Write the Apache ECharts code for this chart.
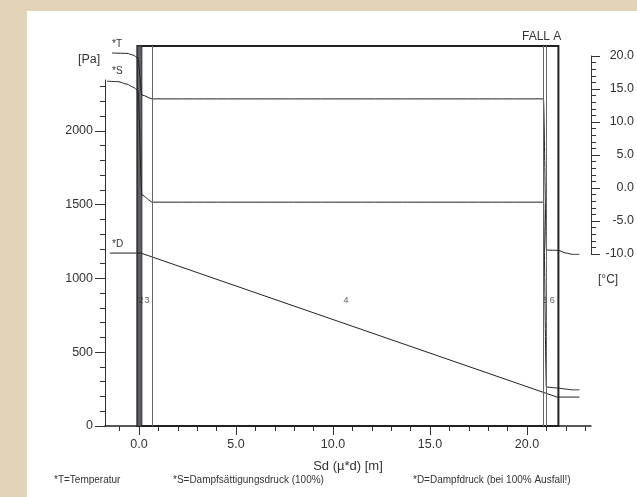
<!DOCTYPE html>
<html><head><meta charset="utf-8">
<script src="https://cdn.jsdelivr.net/npm/echarts@6/dist/echarts.min.js"></script>
<style>html,body{margin:0;padding:0;background:#e3d4b8;}#c{width:637px;height:497px;}</style>
</head><body><div id="c"></div>
<script>
// ---- tick labels / ticks ----
const xMajorTicks = [0, 5, 10, 15, 20];
const xMinorTicks = [-1, 0, 1, 2, 3, 4, 5, 6, 7, 8, 9, 10, 11, 12, 13, 14, 15, 16, 17, 18, 19, 20, 21, 22, 23];
const paMajorTicks = [0, 500, 1000, 1500, 2000];
const paMinorTicks = [100, 200, 300, 400, 600, 700, 800, 900, 1100, 1200, 1300, 1400, 1600, 1700, 1800, 1900, 2100, 2200, 2300];

// ---- T = Temperatur [°C] over Sd [m] ----
const sdT   = [-1.39, -0.62, -0.31, -0.05, 0.15, 0.7, 20.85, 21.0, 21.62, 22.0, 22.35, 22.7];
const tempT = [20.45, 20.4, 20.15, 19.7, 14.1, 13.5, 13.5, -9.4, -9.45, -9.85, -10.05, -10.05];

// ---- S = Dampfsättigungsdruck [Pa] ----
const sdS = [-1.65, -1.08, -0.62, -0.31, -0.05, 0.15, 0.7, 20.85, 21.0, 21.62, 22.0, 22.35, 22.7];
const pS  = [2337, 2334, 2317, 2297, 2276, 1565, 1517, 1517, 264, 257, 250, 245, 245];

// ---- D = Dampfdruck [Pa] ----
const sdD = [-1.5, 0.1, 21.55, 22.7];
const pD  = [1172, 1172, 196, 196];

// ---- wall layers (Sd positions) ----
const wallStart = -0.08;
const wallEnd = 21.62;
const bandEnd = 0.15;
const layerBounds = [0.7, 20.85, 21.0];
const layerNames = ['2', '3', '4', '5', '6'];
const layerSd = [0.1, 0.42, 10.67, 20.93, 21.3];

const zip = (a, b) => a.map((v, i) => [v, b[i]]);
const FONT = 'Liberation Sans, Arial, sans-serif';
const TXT = '#333';
const X_MIN = -1.75, X_MAX = 23.3;

const chart = echarts.init(document.getElementById('c'));
const hiddenX = gi => ({gridIndex: gi, type: 'value', min: X_MIN, max: X_MAX, show: false});

chart.setOption({
  backgroundColor: '#e3d4b8',
  animation: false,
  textStyle: {fontFamily: FONT},
  title: {text: 'FALL A', left: 517, top: 26, textStyle: {fontSize: 12, fontWeight: 'normal', color: TXT, fontFamily: FONT}},
  graphic: [
    {type: 'rect', z: -10, shape: {x: 27, y: 11, width: 610, height: 486}, style: {fill: '#ffffff'}},
    {type: 'text', left: 78, top: 53, style: {text: '[Pa]', font: '12.5px ' + FONT, fill: TXT}},
    {type: 'text', left: 598, top: 274, style: {text: '[°C]', font: '12px ' + FONT, fill: TXT}},
    {type: 'text', left: 112, top: 39, style: {text: '*T', font: '10px ' + FONT, fill: TXT}},
    {type: 'text', left: 112, top: 66, style: {text: '*S', font: '10px ' + FONT, fill: TXT}},
    {type: 'text', left: 112, top: 239, style: {text: '*D', font: '10px ' + FONT, fill: TXT}},
    {type: 'text', left: 54, top: 475, style: {text: '*T=Temperatur', font: '10px ' + FONT, fill: TXT}},
    {type: 'text', left: 173, top: 475, style: {text: '*S=Dampfsättigungsdruck (100%)', font: '10px ' + FONT, fill: TXT}},
    {type: 'text', left: 413, top: 475, style: {text: '*D=Dampfdruck (bei 100% Ausfall!)', font: '10px ' + FONT, fill: TXT}}
  ],
  grid: [
    {left: 105, right: 46, top: 80, bottom: 71},
    {left: 105, right: 46, top: 46, bottom: 71},
    {left: 105, right: 46, top: 56, bottom: 243}
  ],
  xAxis: [
    {gridIndex: 0, type: 'value', min: X_MIN, max: X_MAX, position: 'bottom',
     name: 'Sd (µ*d) [m]', nameLocation: 'middle', nameGap: 34,
     nameTextStyle: {fontSize: 13, color: TXT, fontFamily: FONT},
     axisLine: {onZero: false, lineStyle: {color: '#222', width: 1.5}},
     axisTick: {length: 9, lineStyle: {color: '#333'}, customValues: xMajorTicks},
     axisLabel: {customValues: xMajorTicks, formatter: v => v.toFixed(1), fontSize: 12.5, color: TXT, margin: 12},
     splitLine: {show: false}},
    {gridIndex: 0, type: 'value', min: X_MIN, max: X_MAX, position: 'bottom',
     axisLine: {show: false, onZero: false},
     axisTick: {length: 5, lineStyle: {color: '#333'}, customValues: xMinorTicks},
     axisLabel: {show: false}, splitLine: {show: false}},
    hiddenX(1),
    hiddenX(2)
  ],
  yAxis: [
    {gridIndex: 0, type: 'value', min: 0, max: 2345, position: 'left',
     axisLine: {show: true, onZero: false, lineStyle: {color: '#333', width: 1}},
     axisTick: {show: true, length: 10, lineStyle: {color: '#333'}, customValues: paMajorTicks},
     axisLabel: {customValues: paMajorTicks, formatter: v => String(v), fontSize: 12.5, color: TXT, margin: 12},
     splitLine: {show: false}},
    {gridIndex: 0, type: 'value', min: 0, max: 2345, position: 'left',
     axisLine: {show: false, onZero: false},
     axisTick: {show: true, length: 5, lineStyle: {color: '#333'}, customValues: paMinorTicks},
     axisLabel: {show: false}, splitLine: {show: false}},
    {gridIndex: 1, type: 'value', min: 0, max: 1, show: false},
    {gridIndex: 2, type: 'value', min: -10, max: 20, interval: 5, position: 'right',
     axisLine: {show: true, onZero: false, lineStyle: {color: '#333', width: 1}},
     axisTick: {show: true, length: 9, lineStyle: {color: '#333'}},
     minorTick: {show: true, splitNumber: 5, length: 5, lineStyle: {color: '#333'}},
     axisLabel: {formatter: v => v.toFixed(1), fontSize: 12.5, color: TXT, margin: 43, align: 'right'},
     splitLine: {show: false}}
  ],
  series: [
    // wall structure
    {type: 'line', xAxisIndex: 2, yAxisIndex: 2, data: [], silent: true,
     markArea: {silent: true, data: [
       [{xAxis: wallStart, yAxis: 0, itemStyle: {color: 'rgba(0,0,0,0)', borderColor: '#222', borderWidth: 2}}, {xAxis: wallEnd, yAxis: 1}],
       [{xAxis: wallStart, yAxis: 0, itemStyle: {color: '#5f5f6a', borderColor: '#333', borderWidth: 1}}, {xAxis: bandEnd, yAxis: 1}]
     ]},
     markLine: {silent: true, symbol: 'none', label: {show: false},
       lineStyle: {color: '#666', width: 1, type: 'solid'},
       data: layerBounds.map(v => ({xAxis: v}))}},
    // layer labels
    {type: 'scatter', xAxisIndex: 2, yAxisIndex: 2, symbolSize: 0, silent: true,
     data: layerSd.map((v, i) => ({value: [v, 0.33], name: layerNames[i]})),
     label: {show: true, position: 'inside', formatter: p => p.name, fontSize: 9, color: TXT}},
    // curves
    {type: 'line', name: 'S', xAxisIndex: 0, yAxisIndex: 0, data: zip(sdS, pS), clip: false,
     symbol: 'none', smooth: 0.25, smoothMonotone: 'x', lineStyle: {color: '#222', width: 1}},
    {type: 'line', name: 'D', xAxisIndex: 0, yAxisIndex: 0, data: zip(sdD, pD), clip: false,
     symbol: 'none', lineStyle: {color: '#222', width: 1}},
    {type: 'line', name: 'T', xAxisIndex: 3, yAxisIndex: 3, data: zip(sdT, tempT), clip: false,
     symbol: 'none', smooth: 0.25, smoothMonotone: 'x', lineStyle: {color: '#222', width: 1}}
  ]
});
</script>
</body></html>
